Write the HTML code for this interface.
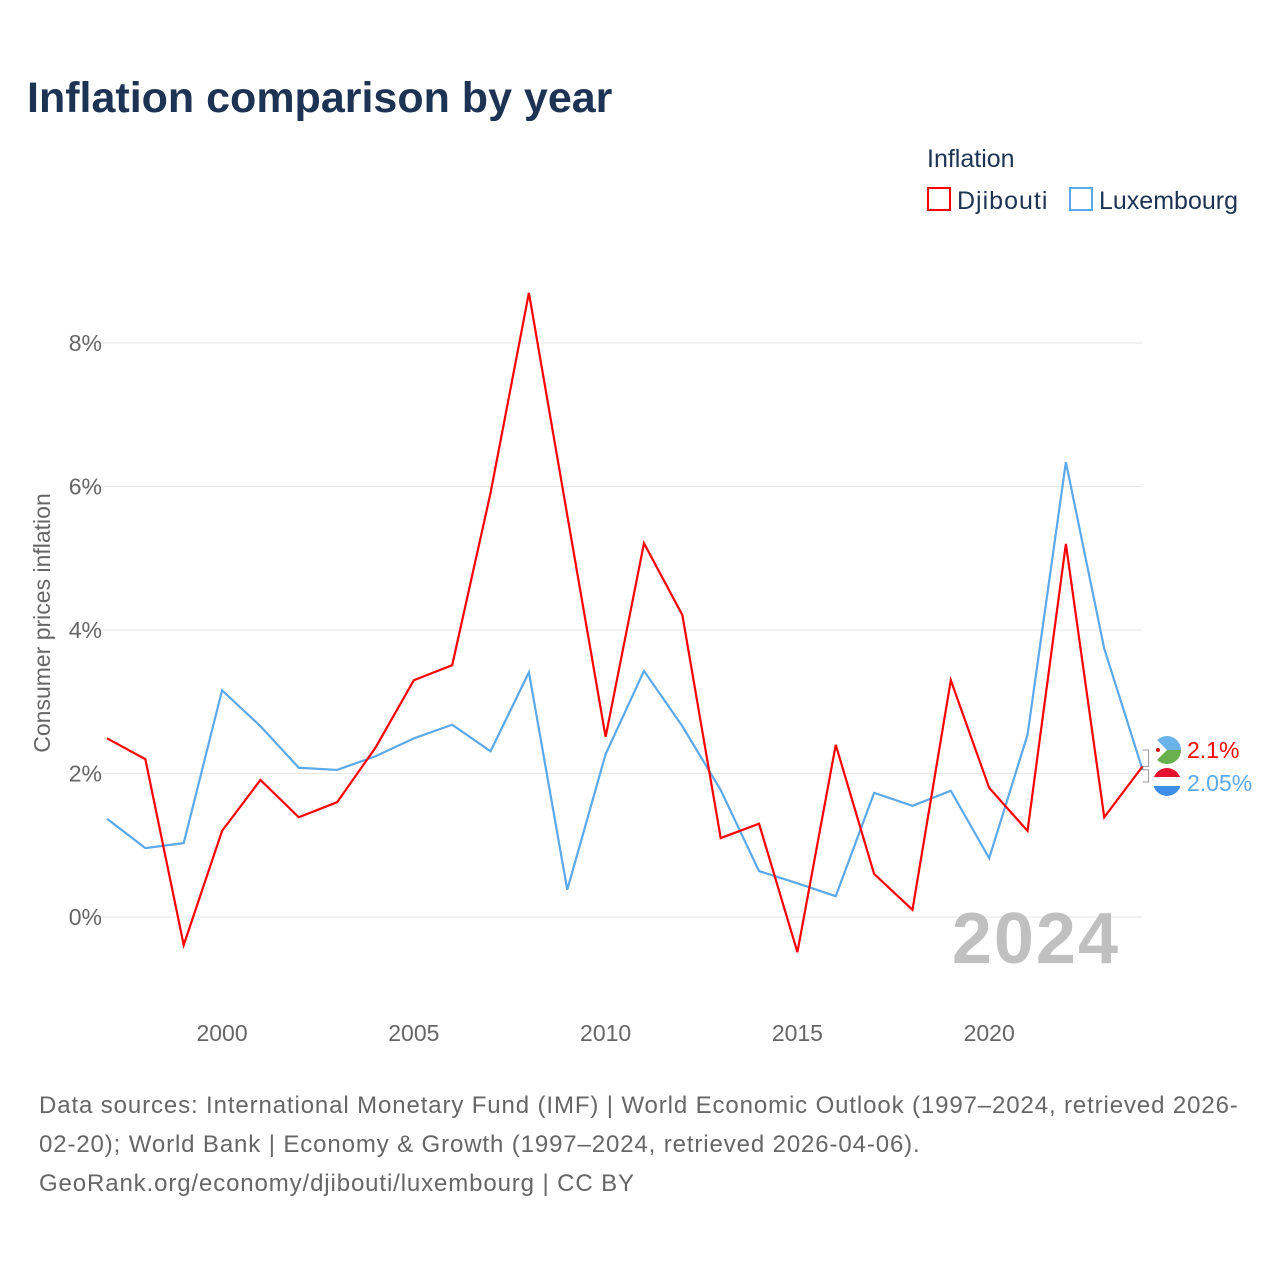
<!DOCTYPE html>
<html><head><meta charset="utf-8">
<style>
body{margin:0;background:#fff;font-family:"Liberation Sans",sans-serif;}
#wrap{position:relative;width:1280px;height:1280px;overflow:hidden;}
</style></head>
<body>
<div id="wrap">
<svg id="chart" width="1280" height="1280" xmlns="http://www.w3.org/2000/svg">
<text x="27" y="112" font-size="43" font-weight="bold" fill="#1c3354">Inflation comparison by year</text>
<text x="927" y="167" font-size="25" fill="#1c3354">Inflation</text>
<g><rect x="928" y="188" width="22" height="22" fill="none" stroke="#ff0000" stroke-width="2"/><text x="957" y="209" font-size="25" fill="#1c3354" letter-spacing="1">Djibouti</text></g>
<g><rect x="1070" y="188" width="22" height="22" fill="none" stroke="#5ba8ea" stroke-width="2"/><text x="1099" y="209" font-size="25" fill="#1c3354">Luxembourg</text></g>
<g id="grid"></g>
<g id="axes"></g>
<text transform="translate(50,623) rotate(-90)" text-anchor="middle" font-size="23" fill="#666">Consumer prices inflation</text>
<text x="1120" y="963" text-anchor="end" font-size="72" font-weight="bold" fill="#c0c0c0" letter-spacing="2">2024</text>
<g id="series"></g>
<g fill="#666" font-size="24" letter-spacing="0.88">
<text x="39" y="1113">Data sources: International Monetary Fund (IMF) | World Economic Outlook (1997–2024, retrieved 2026-</text>
<text x="39" y="1152">02-20); World Bank | Economy &amp; Growth (1997–2024, retrieved 2026-04-06).</text>
<text x="39" y="1191">GeoRank.org/economy/djibouti/luxembourg | CC BY</text>
</g>
</svg>
</div>
<script>
const years=[1997,1998,1999,2000,2001,2002,2003,2004,2005,2006,2007,2008,2009,2010,2011,2012,2013,2014,2015,2016,2017,2018,2019,2020,2021,2022,2023,2024];
const djibouti=[2.49,2.2,-0.39,1.2,1.91,1.39,1.6,2.36,3.3,3.51,5.91,8.7,5.6,2.51,5.21,4.21,1.1,1.3,-0.49,2.4,0.6,0.1,3.3,1.8,1.2,5.2,1.39,2.1];
const luxembourg=[1.37,0.96,1.03,3.16,2.66,2.08,2.05,2.24,2.49,2.68,2.31,3.41,0.38,2.27,3.43,2.66,1.77,0.64,0.47,0.29,1.73,1.55,1.76,0.82,2.54,6.34,3.74,2.05];
const yTicks=[0,2,4,6,8];
const xTicks=[2000,2005,2010,2015,2020];
const NS="http://www.w3.org/2000/svg";
function x(yr){return 107+(yr-1997)*(1142.6-107)/27;}
function y(v){return 917-v*71.75;}
function el(t,a,p){const e=document.createElementNS(NS,t);for(const k in a)e.setAttribute(k,a[k]);p.appendChild(e);return e;}
const grid=document.getElementById('grid'),axes=document.getElementById('axes'),series=document.getElementById('series');
yTicks.forEach(v=>{
 const l=el('line',{x1:82,x2:1142,y1:y(v),y2:y(v),stroke:'#e6e6e6','stroke-width':1},grid);
 
 
 const t=el('text',{x:102,y:y(v)+8,'text-anchor':'end','font-size':23,fill:'#666'},axes);
 t.textContent=v+'%';
 
 
});
xTicks.forEach(v=>{
 const t=el('text',{x:x(v),y:1041,'text-anchor':'middle','font-size':23,fill:'#666'},axes);
 t.textContent=v;
 
 
});
function line(vals,color,name){
 const p=el('polyline',{points:vals.map((v,i)=>x(years[i])+','+y(v)).join(' '),fill:'none',stroke:color,'stroke-width':2.2,'stroke-linejoin':'miter'},series);
 
 
}
line(luxembourg,'#5ba8ea','luxembourg-line');
line(djibouti,'#ff0000','djibouti-line');
const n=years.length-1, xe=x(years[n]);
const dy=y(djibouti[n]), ly=y(luxembourg[n]);
const c1=el('path',{d:`M${xe} ${dy} h6 V750 h-6 M${xe} ${ly} h6 V782 h-6`,fill:'none',stroke:'#999','stroke-width':1},series);


const f1=el('g',{},series);


el('circle',{cx:1167,cy:750,r:14,fill:'#6ab2e7'},f1);
el('path',{d:'M1153 750 A14 14 0 0 0 1181 750 Z',fill:'#6ab04c'},f1);
el('path',{d:'M1153 736 L1167 750 L1153 764 Z',fill:'#fff'},f1);
el('circle',{cx:1158,cy:750,r:2,fill:'#d7141a'},f1);
const f2=el('g',{},series);


el('path',{d:'M1153 782 A14 14 0 0 1 1181 782 Z',fill:'#e8112d'},f2);
el('path',{d:'M1153 782 A14 14 0 0 0 1181 782 Z',fill:'#3c8ee8'},f2);
el('rect',{x:1153,y:777,width:28,height:9,fill:'#fff'},f2);
const t1=el('text',{x:1187,y:758,'font-size':23,fill:'#ff0000'},series);
t1.textContent=djibouti[n]+'%';


const t2=el('text',{x:1187,y:791,'font-size':23,fill:'#5ba8ea'},series);
t2.textContent=luxembourg[n]+'%';


</script>
</body></html>
